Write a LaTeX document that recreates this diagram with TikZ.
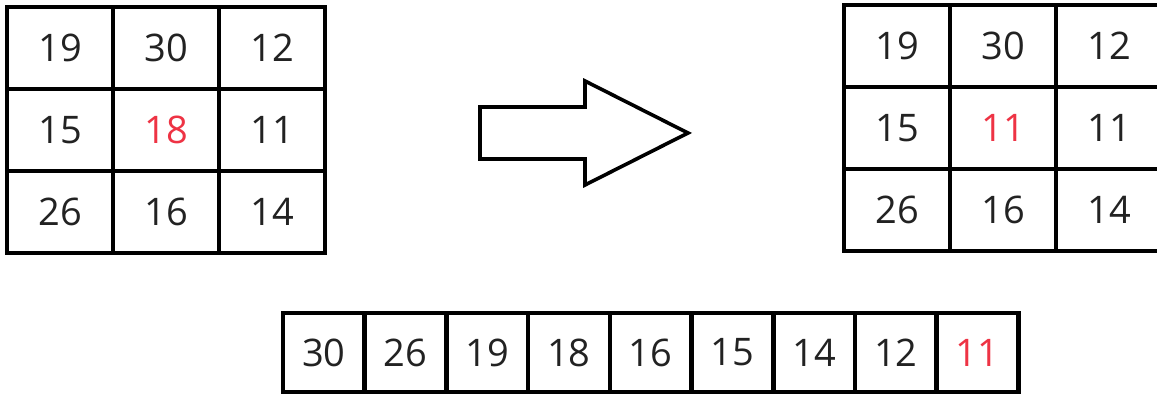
\documentclass[tikz,border=0pt]{standalone}
\usepackage{fontspec}
\setmainfont{Open Sans}
\usetikzlibrary{positioning}
\definecolor{Ink}{HTML}{222222}
\definecolor{Hot}{HTML}{EE3344}

\begin{document}
\begin{tikzpicture}[
        x=0.5pt, y=-0.5pt,
        font=\fontsize{19}{23}\selectfont,
        cell/.style={draw=black, line width=2.3pt, minimum width=53pt, minimum height=41pt, inner sep=0pt, outer sep=0pt, text=Ink},
        slot/.style={cell, minimum width=40.85pt, minimum height=39.5pt},
        bigarrow/.style={draw=black, line width=1.8pt, line join=miter, fill=white}
      ]
        \clip (0,0) rectangle (1157,394);
        \fill[white] (0,0) rectangle (1157,394);

        % window before
        \foreach \r/\row in {0/{19,30,12},1/{15,{\color{Hot}18},11},2/{26,16,14}}
          \foreach \v [count=\c from 0] in \row
            \node[cell] (in-\r-\c) at ({60+106*\c},{48+82*\r}) {\v};

        % window after
        \foreach \r/\row in {0/{19,30,12},1/{15,{\color{Hot}11},11},2/{26,16,14}}
          \foreach \v [count=\c from 0] in \row
            \node[cell] (out-\r-\c) at ({897+106*\c},{46+82*\r}) {\v};

        % sorted values
        \foreach \v [count=\k from 0] in {30,26,19,18,16,15,14,12,{\color{Hot}11}}
          \node[slot] (s-\k) at ({323.85+81.7*\k},352.5) {\v};

        \coordinate (a1) at (480,107);
        \coordinate (a2) at (585,107);
        \coordinate (a3) at (585,81);
        \coordinate (tip) at (688,133);
        \coordinate (a5) at (585,185);
        \coordinate (a6) at (585,159);
        \coordinate (a7) at (480,159);
        \draw[bigarrow] (a1) -- (a2) -- (a3) -- (tip) -- (a5) -- (a6) -- (a7) -- cycle;
      \end{tikzpicture}
\end{document}
